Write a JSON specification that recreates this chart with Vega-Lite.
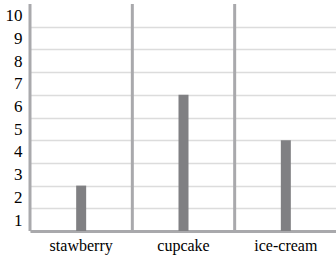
{
  "$schema": "https://vega.github.io/schema/vega-lite/v6.json",
  "autosize": {"type": "none"},
  "padding": {"left": 30, "top": 4, "right": 0, "bottom": 24},
  "width": 307,
  "height": 227,
  "background": "white",
  "data": {"values": [
    {"item": "stawberry", "value": 2},
    {"item": "cupcake", "value": 6},
    {"item": "ice-cream", "value": 4}
  ]},
  "config": {
    "view": {"stroke": null},
    "font": "Times New Roman"
  },
  "layer": [
    {
      "mark": {"type": "bar", "size": 10, "color": "#808083"},
      "encoding": {
        "x": {
          "field": "item", "type": "nominal", "sort": null,
          "scale": {"paddingInner": 0, "paddingOuter": 0},
          "axis": {
            "title": null, "ticks": false, "grid": false, "labelAngle": 0,
            "labelFont": "Times New Roman", "labelFontSize": 16, "labelColor": "#000",
            "labelPadding": 6,
            "domainColor": "#a9a9ac", "domainWidth": 3
          }
        },
        "y": {
          "field": "value", "type": "quantitative",
          "scale": {"domain": [0, 10], "nice": false},
          "axis": {
            "title": null, "ticks": false,
            "values": [0, 1, 2, 3, 4, 5, 6, 7, 8, 9],
            "labelExpr": "datum.value + 1",
            "gridColor": "#dcdcdc",
            "gridWidth": 1.5,
            "labelFont": "Times New Roman", "labelFontSize": 17, "labelColor": "#000",
            "labelBaseline": "middle", "labelOffset": -11, "labelPadding": 8,
            "domain": false
          }
        }
      }
    },
    {
      "mark": {"type": "rule", "color": "#a9a9ac", "strokeWidth": 3},
      "encoding": {
        "x": {"field": "item", "type": "nominal", "sort": null, "bandPosition": 0}
      }
    }
  ]
}
